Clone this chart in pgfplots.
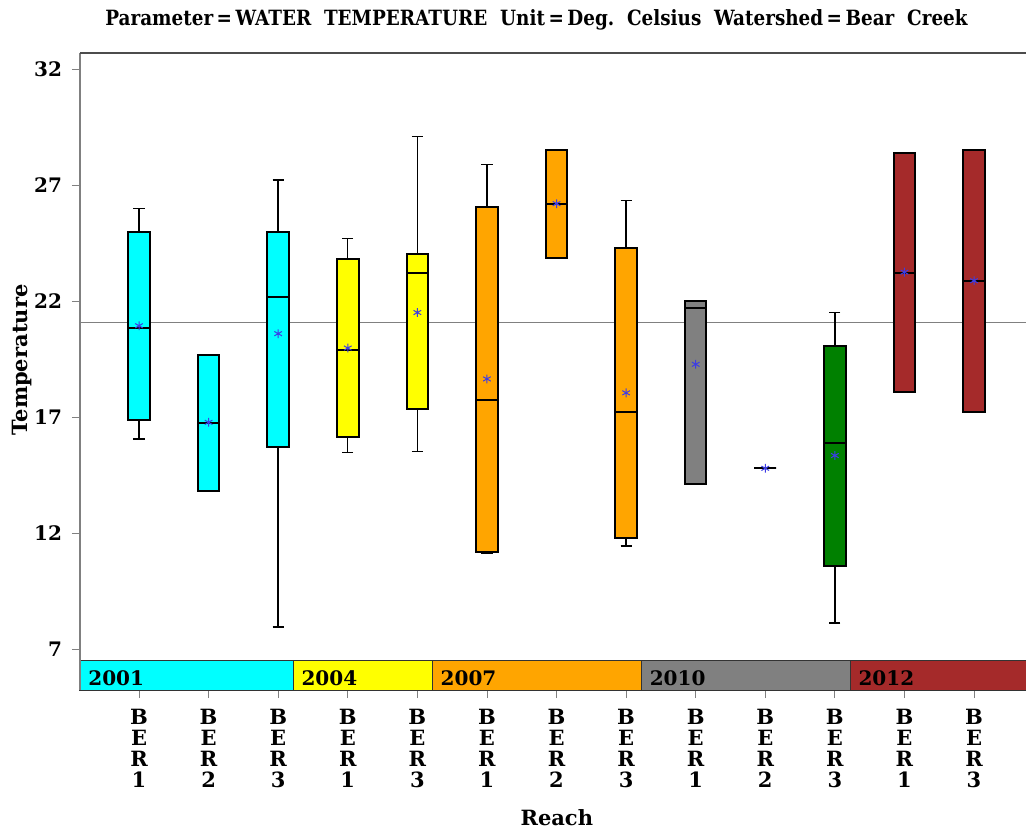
\documentclass[border=0pt]{standalone}
\usepackage{fontspec}
\setmainfont{DejaVu Serif}
\newfontfamily\titlefont[FakeStretch=0.875]{DejaVu Serif}
\usepackage{pgfplots}
\pgfplotsset{compat=1.18}
\usepgfplotslibrary{statistics}

\definecolor{meanblue}{RGB}{60,60,230}
\definecolor{bandgray}{RGB}{128,128,128}
\definecolor{brick}{RGB}{165,42,42}
\definecolor{darkgreen}{RGB}{0,128,0}
\definecolor{bcyan}{RGB}{0,255,255}
\definecolor{byellow}{RGB}{255,255,0}
\definecolor{borange}{RGB}{255,165,0}

% boxplot style used by every reach
\pgfplotsset{
  bx/.style={draw=black, line width=1pt,
    boxplot/draw direction=y,
    boxplot/box extend=0.31, boxplot/whisker extend=0.16,
    boxplot/every whisker/.style={line width=0.7pt},
    boxplot/every median/.style={line width=1pt}},
}

\begin{document}
\begin{tikzpicture}
\begin{axis}[
    name=ax, at={(0,0)}, anchor=south west,
    scale only axis, width=473pt, height=318.5pt,
    xmin=0.152, xmax=13.747, ymin=5.25, ymax=32.69,
    axis line style={draw=none},
    tick align=outside, tick pos=left,
    major tick length=4pt,
    tick style={bandgray, thin},
    ytick={7,12,17,22,27,32},
    yticklabels={7,12,17,22,27,32},
    yticklabel style={font=\fontsize{10}{10}\selectfont\bfseries, xshift=-1.5pt},
    xtick={1,...,13},
    xticklabels={{B\\E\\R\\1},{B\\E\\R\\2},{B\\E\\R\\3},{B\\E\\R\\1},{B\\E\\R\\3},
      {B\\E\\R\\1},{B\\E\\R\\2},{B\\E\\R\\3},{B\\E\\R\\1},{B\\E\\R\\2},{B\\E\\R\\3},
      {B\\E\\R\\1},{B\\E\\R\\3}},
    xticklabel style={align=center, font=\fontsize{10.5}{10.5}\selectfont\bfseries, yshift=-2pt},
    clip=false,
]
% reference line
\addplot[bandgray, line width=0.6pt, no marks] coordinates {(0.152,21.07) (13.747,21.07)};

% 2001
\addplot[bx, fill=bcyan, boxplot prepared={draw position=1, lower whisker=16.07,
  lower quartile=16.87, median=20.84, upper quartile=25.0, upper whisker=26.0}] coordinates {};
\addplot[bx, fill=bcyan, boxplot prepared={draw position=2, lower whisker=13.84,
  lower quartile=13.84, median=16.76, upper quartile=19.66, upper whisker=19.66}] coordinates {};
\addplot[bx, fill=bcyan, boxplot prepared={draw position=3, lower whisker=7.96,
  lower quartile=15.72, median=22.19, upper quartile=25.0, upper whisker=27.22}] coordinates {};
% 2004
\addplot[bx, fill=byellow, boxplot prepared={draw position=4, lower whisker=15.49,
  lower quartile=16.14, median=19.88, upper quartile=23.82, upper whisker=24.70}] coordinates {};
\addplot[bx, fill=byellow, boxplot prepared={draw position=5, lower whisker=15.53,
  lower quartile=17.37, median=23.21, upper quartile=24.04, upper whisker=29.09}] coordinates {};
% 2007
\addplot[bx, fill=borange, boxplot prepared={draw position=6, lower whisker=11.13,
  lower quartile=11.20, median=17.76, upper quartile=26.05, upper whisker=27.88}] coordinates {};
\addplot[bx, fill=borange, boxplot prepared={draw position=7, lower whisker=23.87,
  lower quartile=23.87, median=26.19, upper quartile=28.51, upper whisker=28.51}] coordinates {};
\addplot[bx, fill=borange, boxplot prepared={draw position=8, lower whisker=11.46,
  lower quartile=11.81, median=17.21, upper quartile=24.30, upper whisker=26.33}] coordinates {};
% 2010
\addplot[bx, fill=bandgray, boxplot prepared={draw position=9, lower whisker=14.11,
  lower quartile=14.11, median=21.70, upper quartile=22.02, upper whisker=22.02}] coordinates {};
\addplot[bx, boxplot prepared={draw position=10, lower whisker=14.80,
  lower quartile=14.80, median=14.80, upper quartile=14.80, upper whisker=14.80}] coordinates {};
\addplot[bx, fill=darkgreen, boxplot prepared={draw position=11, lower whisker=8.13,
  lower quartile=10.59, median=15.88, upper quartile=20.09, upper whisker=21.51}] coordinates {};
% 2012
\addplot[bx, fill=brick, boxplot prepared={draw position=12, lower whisker=18.10,
  lower quartile=18.10, median=23.23, upper quartile=28.40, upper whisker=28.40}] coordinates {};
\addplot[bx, fill=brick, boxplot prepared={draw position=13, lower whisker=17.24,
  lower quartile=17.24, median=22.88, upper quartile=28.51, upper whisker=28.51}] coordinates {};

% means
\addplot[only marks, mark=asterisk, mark size=2.2pt, meanblue, line width=0.5pt] coordinates {
  (1,20.94) (2,16.78) (3,20.60) (4,19.98) (5,21.51) (6,18.65) (7,26.20)
  (8,18.05) (9,19.28) (10,14.80) (11,15.35) (12,23.25) (13,22.88)};

% year bands
\draw[fill=bcyan, draw=black!80, line width=0.5pt] (axis cs:0.152,5.25) rectangle (axis cs:3.215,6.53);
\draw[fill=byellow, draw=black!80, line width=0.5pt] (axis cs:3.215,5.25) rectangle (axis cs:5.215,6.53);
\draw[fill=borange, draw=black!80, line width=0.5pt] (axis cs:5.215,5.25) rectangle (axis cs:8.22,6.53);
\draw[fill=bandgray, draw=black!80, line width=0.5pt] (axis cs:8.22,5.25) rectangle (axis cs:11.22,6.53);
\draw[fill=brick, draw=black!80, line width=0.5pt] (axis cs:11.22,5.25) rectangle (axis cs:13.747,6.53);
\begin{scope}[every node/.style={anchor=base west, inner sep=0pt,
    font=\fontsize{10}{10}\selectfont\bfseries}]
\node at (axis cs:0.152,5.25) [xshift=4pt, yshift=2.5pt] {2001};
\node at (axis cs:3.215,5.25) [xshift=4pt, yshift=2.5pt] {2004};
\node at (axis cs:5.215,5.25) [xshift=4pt, yshift=2.5pt] {2007};
\node at (axis cs:8.22,5.25) [xshift=4pt, yshift=2.5pt] {2010};
\node at (axis cs:11.22,5.25) [xshift=4pt, yshift=2.5pt] {2012};
\end{scope}
% left and top frame lines
\draw[bandgray, line width=0.6pt] (rel axis cs:0,0) -- (rel axis cs:0,1);
\draw[black!70, line width=0.6pt] (rel axis cs:0,1) -- (rel axis cs:1,1);
% title and axis labels
\node[font=\titlefont\fontsize{10.5}{12}\selectfont\bfseries] at (rel axis cs:0.4826,1) [yshift=16.5pt]
  {Parameter\,=\,WATER\ \ TEMPERATURE\ \ Unit\,=\,Deg.\ \ Celsius\ \ Watershed\,=\,Bear\ \ Creek};
\node[font=\fontsize{10.5}{12}\selectfont\bfseries] at (rel axis cs:0.504,0) [yshift=-64pt] {Reach};
\node[font=\fontsize{10.5}{12}\selectfont\bfseries, rotate=90] at ([xshift=-29pt]rel axis cs:0,0.518) {Temperature};
\end{axis}
\pgfresetboundingbox
\path (-40pt,-69.5pt) rectangle (473pt,345pt);
\end{tikzpicture}
\end{document}
